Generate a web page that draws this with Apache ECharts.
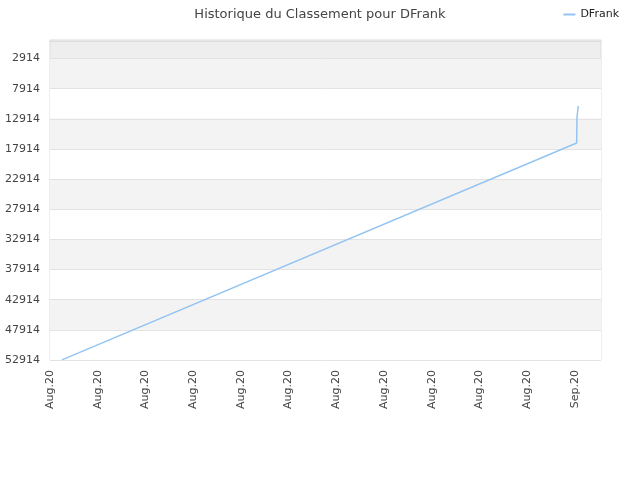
<!DOCTYPE html>
<html><head><meta charset="utf-8">
<script src="https://cdn.jsdelivr.net/npm/echarts@6/dist/echarts.min.js"></script>
<style>html,body{margin:0;padding:0;background:#fff}#c{width:640px;height:480px}</style>
</head><body><div id="c"></div>
<script>
// x: days since 1 Aug 2020, y: rank
var dayX = [0.75, 33.12, 33.14, 33.2, 33.22];
var ranks = [52900, 16930, 12650, 12600, 10790];
var yTicks = [2914, 7914, 12914, 17914, 22914, 27914, 32914, 37914, 42914, 47914, 52914];
var seriesName = 'DFrank';
var titleText = 'Historique du Classement pour DFrank';

var data = dayX.map(function (x, i) { return [x, ranks[i]]; });
var chart = echarts.init(document.getElementById('c'), null, {renderer: 'canvas'});
chart.setOption({
  animation: false,
  textStyle: {fontFamily: 'DejaVu Sans'},
  title: {text: titleText, left: 'center', top: 3,
    textStyle: {fontSize: 13, fontWeight: 'normal', color: '#444', fontFamily: 'DejaVu Sans'}},
  legend: {right: 16, top: 4, itemWidth: 12, itemHeight: 2, itemGap: 8,
    data: [{name: seriesName, icon: 'rect'}],
    textStyle: {fontSize: 11, color: '#222', fontFamily: 'DejaVu Sans'}},
  grid: {left: 50, right: 39, top: 40, bottom: 120, show: true, borderColor: '#ddd', borderWidth: 1, backgroundColor: '#eeeeee'},
  xAxis: {type: 'value', min: 0, max: 34.65, interval: 3,
    axisLine: {show: true, lineStyle: {color: '#ddd'}},
    axisTick: {show: false}, splitLine: {show: false},
    axisLabel: {rotate: 90, fontSize: 11, color: '#444', margin: 10, showMaxLabel: false,
      formatter: function (v) { return v < 31 ? 'Aug.20' : 'Sep.20'; }}},
  yAxis: {type: 'value', inverse: true, min: -156, max: 52914,
    axisLine: {show: false},
    axisTick: {show: false, customValues: yTicks},
    splitLine: {show: true, lineStyle: {color: '#e3e3e3'}},
    splitArea: {show: true, areaStyle: {color: ['#f3f3f3', '#ffffff']}},
    axisLabel: {fontSize: 11, color: '#444', margin: 10, customValues: yTicks,
      formatter: function (v) { return String(v); }}},
  series: [{name: seriesName, type: 'line', data: data, showSymbol: false, symbol: 'none',
    lineStyle: {color: '#94c4f2', width: 1.5}, itemStyle: {color: '#94c4f2'}}]
});
</script></body></html>
